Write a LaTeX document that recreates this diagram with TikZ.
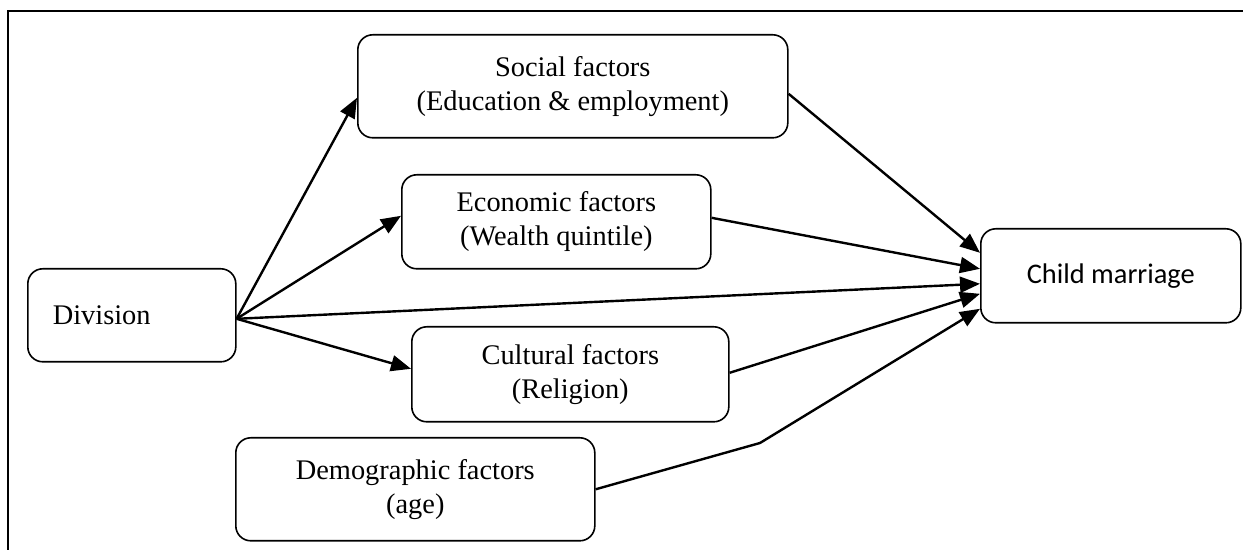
\documentclass[tikz,border=0pt]{standalone}
\usepackage{fontspec}
\setmainfont{Liberation Serif}
\newfontfamily\cmfont{Carlito}
\usetikzlibrary{arrows.meta}

\tikzset{
  factor/.style={draw, line width=0.8pt, rounded corners=7.5pt, anchor=north west,
                 align=center, inner sep=0pt, font=\fontsize{14.2}{17}\selectfont},
}

\begin{document}
\begin{tikzpicture}[x=0.5pt, y=-0.5pt, ->, >={Triangle[length=10pt,width=8pt]}, line width=1.2pt]
  \useasboundingbox (0,0) rectangle (1243,550);
  \draw[-, line width=1pt] (8,550) -- (8,11) -- (1243,11);

  \node[factor, minimum width=215pt,   minimum height=51.5pt] (social)      at (357,34)  {Social factors\\(Education \& employment)};
  \node[factor, minimum width=154.5pt, minimum height=47pt]   (economic)    at (401,174) {Economic factors\\(Wealth quintile)};
  \node[factor, minimum width=158.5pt, minimum height=47.5pt] (cultural)    at (411,326) {Cultural factors\\(Religion)};
  \node[factor, minimum width=179.5pt, minimum height=51.5pt] (demographic) at (235,437) {Demographic factors\\(age)};
  \node[factor, minimum width=104pt,   minimum height=46.5pt,
        inner xsep=12.5pt, text width=79pt, align=left]      (division)    at (27,268)  {Division};
  \node[factor, minimum width=130pt,   minimum height=47pt,
        font=\cmfont\fontsize{14.2}{17}\selectfont]          (child)       at (980,228) {Child marriage};

  \coordinate (src)  at ([yshift=-1.75pt]division.east);
  \coordinate (bend) at (760,443);

  \path (src) edge ([yshift=-5.75pt]social.west)
              edge ([yshift=3pt]economic.west)
              edge ([yshift=-4pt]child.west)
              edge ([yshift=2.75pt]cultural.west)
        ([yshift=-3.75pt]social.east)  edge ([yshift=11.5pt]child.west)
        ([yshift=2pt]economic.east)    edge ([yshift=3.5pt]child.west)
        ([yshift=0.75pt]cultural.east) edge ([yshift=-9pt]child.west)
        ;
  \draw (demographic.east) -- (bend) -- ([yshift=-16.5pt]child.west);
\end{tikzpicture}
\end{document}
